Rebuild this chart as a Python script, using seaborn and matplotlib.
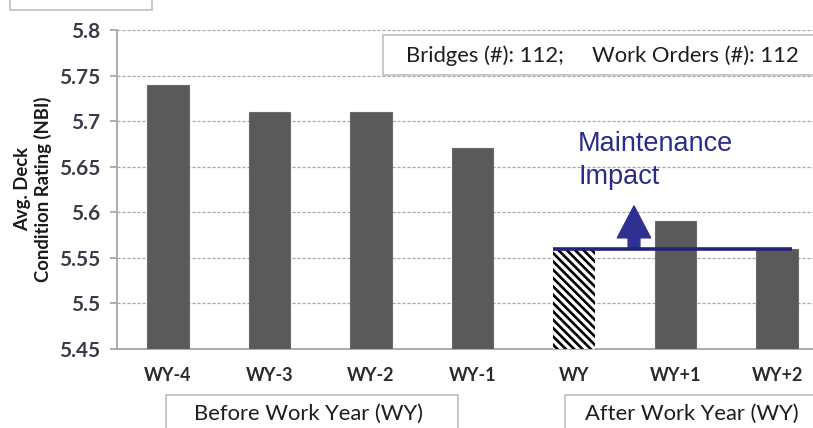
import numpy as np
import pandas as pd
import matplotlib
matplotlib.use('Agg')
import matplotlib.pyplot as plt
from matplotlib.patches import Rectangle
import seaborn as sns

# chart data
periods = ['WY-4', 'WY-3', 'WY-2', 'WY-1', 'WY', 'WY+1', 'WY+2']
ratings = [5.74, 5.71, 5.71, 5.67, 5.56, 5.59, 5.56]
y_ticks = [5.45, 5.5, 5.55, 5.6, 5.65, 5.7, 5.75, 5.8]
y_tick_labels = ['5.45', '5.5', '5.55', '5.6', '5.65', '5.7', '5.75', '5.8']
work_year = 'WY'
impact_top = 5.607
counts_text = 'Bridges (#): 112;     Work Orders (#): 112'

sns.set_style('white')
plt.rcParams['font.family'] = ['Lato', 'DejaVu Sans']
plt.rcParams['hatch.linewidth'] = 1.9
plt.rcParams['hatch.color'] = 'black'

df = pd.DataFrame({'period': periods, 'rating': ratings})

fig = plt.figure(figsize=(8.13, 4.28), dpi=100)
ax = fig.add_axes([117 / 813, 1 - 349 / 428, 711 / 813, 319 / 428])

bar_w = 0.41
sns.barplot(data=df, x='period', y='rating', color='#5a5a5a', width=bar_w,
            saturation=1, ax=ax, zorder=3)
wy_idx = periods.index(work_year)
for i, p in enumerate(ax.patches):
    p.set_edgecolor('#6a6a6a')
    p.set_linewidth(0.8)
    if i == wy_idx:
        p.set_facecolor('white')
        p.set_edgecolor('black')
        p.set_linewidth(0)
        p.set_hatch('\\\\\\\\')

ax.set_ylim(y_ticks[0], y_ticks[-1])
ax.set_xlim(-0.5, len(periods) - 0.5)
ax.set_yticks(y_ticks)
ax.set_yticklabels(y_tick_labels)
ax.set_xlabel('')
ax.set_ylabel('')

ax.yaxis.grid(True, color='#a8a8a8', linestyle=(0, (2.5, 1.5)), linewidth=0.9)
ax.set_axisbelow(True)
for s in ['top', 'right']:
    ax.spines[s].set_visible(False)
for s in ['left', 'bottom']:
    ax.spines[s].set_color('#a6a6a6')
    ax.spines[s].set_linewidth(1.3)

ax.set_xticks(np.arange(-0.5, len(periods), 1), minor=True)
ax.tick_params(axis='x', which='major', length=0, pad=13, labelsize=13,
               labelcolor='#2a2a2a')
ax.tick_params(axis='x', which='minor', length=5, width=1.3, color='#a6a6a6',
               direction='out')
ax.tick_params(axis='y', length=5, width=1.3, color='#a6a6a6', pad=7,
               labelsize=15, labelcolor='#3a3a4a', left=True)
for lab in ax.get_xticklabels() + ax.get_yticklabels():
    lab.set_fontweight('bold')

# maintenance impact line and arrow
base = ratings[wy_idx]
ax.hlines(base, wy_idx - bar_w / 2, len(periods) - 1 + 0.15,
          color='#232378', linewidth=2.6, zorder=5)
ax.annotate('', xy=(wy_idx + 0.59, impact_top), xytext=(wy_idx + 0.59, base),
            arrowprops=dict(arrowstyle='simple,head_length=2.3,head_width=2.4,tail_width=0.85',
                            color='#2e3192', shrinkA=0, shrinkB=0), zorder=4)
ax.text(wy_idx + 0.04, 5.689, 'Maintenance\nImpact', color='#2b2b8a',
        fontsize=19.5, family=['Liberation Sans', 'DejaVu Sans'], va='top',
        ha='left', linespacing=1.36, zorder=6)

# text boxes
edge = '#c4c4c4'
txt = '#1e1e1e'
fig.patches.append(Rectangle((383 / 813, 1 - 75 / 428), 440 / 813, 40 / 428,
                             transform=fig.transFigure, facecolor='white',
                             edgecolor=edge, linewidth=1.3, zorder=10))
fig.text(406 / 813, 1 - 56 / 428, counts_text, fontsize=15.8, color=txt,
         va='center', ha='left', zorder=11)

fig.patches.append(Rectangle((10 / 813, 1 - 10 / 428), 142 / 813, 30 / 428,
                             transform=fig.transFigure, facecolor='white',
                             edgecolor=edge, linewidth=1.3))

fig.patches.append(Rectangle((166 / 813, -0.05), 292 / 813, 0.05 + 33 / 428,
                             transform=fig.transFigure, facecolor='white',
                             edgecolor=edge, linewidth=1.3))
fig.text(308 / 813, 1 - 414 / 428, 'Before Work Year (WY)', fontsize=15.8,
         color=txt, ha='center', va='center')
fig.patches.append(Rectangle((565 / 813, -0.05), 260 / 813, 0.05 + 33 / 428,
                             transform=fig.transFigure, facecolor='white',
                             edgecolor=edge, linewidth=1.3))
fig.text(692 / 813, 1 - 414 / 428, 'After Work Year (WY)', fontsize=15.8,
         color=txt, ha='center', va='center')

fig.text(33 / 813, 1 - 189 / 428, 'Avg. Deck\nCondition Rating (NBI)',
         rotation=90, ha='center', va='center', fontsize=13.3, fontweight='bold',
         color='#1a1a1a', linespacing=1.15)

fig.savefig('out.png', dpi=100)
